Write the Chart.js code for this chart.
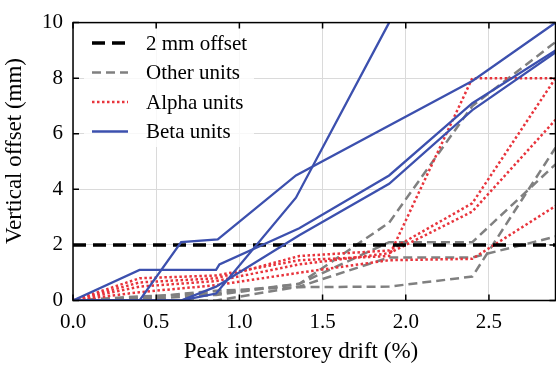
<!DOCTYPE html>
<html>
<head>
<meta charset="utf-8">
<script src="https://cdn.jsdelivr.net/npm/chart.js@4.4.0/dist/chart.umd.min.js"></script>
<style>
html, body { margin: 0; padding: 0; background: #fff; }
#wrap { width: 556px; height: 367px; }
</style>
</head>
<body>
<div id="wrap"><canvas id="grafico" width="556" height="367"></canvas></div>
<script>
// valores: [deriva (%), deslocamento (mm)]
const limite2mm = [[0, 2], [2.9, 2]];

const outras1 = [[0, 0], [0.4, 0.1], [0.86, 0.35], [1.36, 0.48], [1.9, 0.5], [2.4, 0.86], [2.9, 5.5]];
const outras2 = [[0, 0], [0.4, 0], [0.86, 0], [1.36, 0.5], [1.9, 1.55], [2.4, 1.55], [2.9, 2.3]];
const outras3 = [[0, 0], [0.4, 0.05], [0.86, 0.2], [1.36, 0.6], [1.9, 2.1], [2.4, 2.1], [2.9, 4.9]];
const outras4 = [[0, 0], [0.4, 0.15], [0.86, 0.25], [1.36, 0.6], [1.9, 2.8], [2.4, 7.0], [2.9, 9.3]];

const alpha1 = [[0, 0], [0.4, 0.8], [0.86, 0.9], [1.36, 1.45], [1.9, 1.6], [2.4, 8.0], [2.9, 8.0]];
const alpha2 = [[0, 0], [0.4, 0.65], [0.86, 0.8], [1.36, 1.6], [1.9, 1.8], [2.4, 3.5], [2.9, 8.0]];
const alpha3 = [[0, 0], [0.4, 0.5], [0.86, 0.7], [1.36, 1.3], [1.9, 1.7], [2.4, 3.2], [2.9, 6.5]];
const alpha4 = [[0, 0], [0.4, 0.3], [0.86, 0.55], [1.36, 1.0], [1.9, 1.45], [2.4, 1.5], [2.9, 3.4]];

const beta1 = [[0, 0], [0.4, 1.1], [0.86, 1.1], [0.88, 1.3], [1.36, 2.6], [1.9, 4.5], [2.4, 7.1], [2.9, 9.0]];
const beta2 = [[0, 0], [0.4, 0], [0.65, 2.1], [0.87, 2.2], [1.34, 4.5], [2.4, 7.9], [2.9, 10.0]];
const beta3 = [[0, 0], [0.65, 0], [0.86, 0.25], [1.34, 3.7], [1.9, 10.0]];
const beta4 = [[0, 0], [0.65, 0], [0.86, 0.5], [1.36, 2.35], [1.9, 4.2], [2.4, 6.85], [2.9, 8.93]];

const xTicks = [0, 0.5, 1.0, 1.5, 2.0, 2.5];
const yTicks = [0, 2, 4, 6, 8, 10];

const tituloX = 'Peak interstorey drift (%)';
const tituloY = 'Vertical offset (mm)';

const fonte = "'Liberation Serif', 'DejaVu Serif', serif";

const estilos = {
    limite: { texto: '2 mm offset', cor: '#000000', largura: 3.5, dash: [13, 7] },
    outras: { texto: 'Other units', cor: '#808080', largura: 2.5, dash: [9, 5] },
    alpha: { texto: 'Alpha units', cor: '#e8343c', largura: 2.5, dash: [2.5, 2.5] },
    beta: { texto: 'Beta units', cor: '#3c50ae', largura: 2.3, dash: [] }
};

function serie(pontos, tipo, ordem) {
    const e = estilos[tipo];
    return {
        label: e.texto,
        data: pontos.map(p => ({ x: p[0], y: p[1] })),
        borderColor: e.cor,
        borderWidth: e.largura,
        borderDash: e.dash,
        borderCapStyle: 'butt',
        pointRadius: 0,
        fill: false,
        tension: 0,
        order: ordem
    };
}

// moldura com marcas para dentro nos quatro lados + títulos dos eixos
const moldura = {
    id: 'moldura',
    afterDraw(chart) {
        const ctx = chart.ctx;
        const a = chart.chartArea;
        const sx = chart.scales.x, sy = chart.scales.y;
        ctx.save();
        ctx.strokeStyle = '#000';
        ctx.lineWidth = 1.5;
        ctx.setLineDash([]);
        ctx.beginPath();
        xTicks.forEach(v => {
            const px = sx.getPixelForValue(v);
            ctx.moveTo(px, a.bottom); ctx.lineTo(px, a.bottom - 6);
            ctx.moveTo(px, a.top); ctx.lineTo(px, a.top + 6);
        });
        yTicks.forEach(v => {
            const py = sy.getPixelForValue(v);
            ctx.moveTo(a.left, py); ctx.lineTo(a.left + 6, py);
            ctx.moveTo(a.right, py); ctx.lineTo(a.right - 6, py);
        });
        ctx.stroke();
        ctx.strokeRect(a.left, a.top, a.right - a.left, a.bottom - a.top);

        ctx.fillStyle = '#000';
        ctx.font = '23px ' + fonte;
        ctx.textAlign = 'center';
        ctx.textBaseline = 'middle';
        ctx.fillText(tituloX, 301, 352);
        ctx.translate(15, 151);
        ctx.rotate(-Math.PI / 2);
        ctx.fillText(tituloY, 0, 0);
        ctx.restore();
    }
};

// legenda desenhada dentro da área do gráfico
const legenda = {
    id: 'legenda',
    afterDatasetsDraw(chart) {
        const ctx = chart.ctx;
        const itens = [estilos.limite, estilos.outras, estilos.alpha, estilos.beta];
        ctx.save();
        ctx.fillStyle = 'rgba(255,255,255,0.8)';
        ctx.fillRect(84, 26, 170, 121);
        ctx.font = '21px ' + fonte;
        ctx.textBaseline = 'middle';
        itens.forEach((e, i) => {
            const y = 43 + i * 29.5;
            ctx.strokeStyle = e.cor;
            ctx.lineWidth = e.largura;
            ctx.setLineDash(e.dash);
            ctx.beginPath();
            ctx.moveTo(92, y);
            ctx.lineTo(128, y);
            ctx.stroke();
            ctx.fillStyle = '#000';
            ctx.fillText(e.texto, 146, y + 1);
        });
        ctx.restore();
    }
};

const ctx = document.getElementById('grafico').getContext('2d');
const grafico = new Chart(ctx, {
    type: 'line',
    data: {
        datasets: [
            serie(beta1, 'beta', 1), serie(beta2, 'beta', 1), serie(beta3, 'beta', 1), serie(beta4, 'beta', 1),
            serie(limite2mm, 'limite', 2),
            serie(alpha1, 'alpha', 3), serie(alpha2, 'alpha', 3), serie(alpha3, 'alpha', 3), serie(alpha4, 'alpha', 3),
            serie(outras1, 'outras', 4), serie(outras2, 'outras', 4), serie(outras3, 'outras', 4), serie(outras4, 'outras', 4)
        ]
    },
    options: {
        responsive: false,
        animation: false,
        devicePixelRatio: 1,
        layout: { padding: { top: 14.5, right: 0.5, left: 0, bottom: 0 } },
        plugins: {
            legend: { display: false },
            tooltip: { enabled: false }
        },
        scales: {
            x: {
                type: 'linear',
                min: 0,
                max: 2.9,
                afterBuildTicks: s => { s.ticks = xTicks.map(v => ({ value: v })); },
                afterFit: s => { s.height = 66.5; },
                grid: { color: '#dadada', lineWidth: 1, drawTicks: false },
                border: { display: false },
                ticks: {
                    color: '#000',
                    padding: 9,
                    font: { family: fonte, size: 21 },
                    callback: v => Number(v).toFixed(1)
                }
            },
            y: {
                type: 'linear',
                min: 0,
                max: 10,
                afterBuildTicks: s => { s.ticks = yTicks.map(v => ({ value: v })); },
                afterFit: s => { s.width = 73; },
                grid: { color: '#dadada', lineWidth: 1, drawTicks: false },
                border: { display: false },
                ticks: {
                    color: '#000',
                    padding: 10,
                    font: { family: fonte, size: 21 },
                    callback: v => String(v)
                }
            }
        }
    },
    plugins: [legenda, moldura]
});
</script>
</body>
</html>
